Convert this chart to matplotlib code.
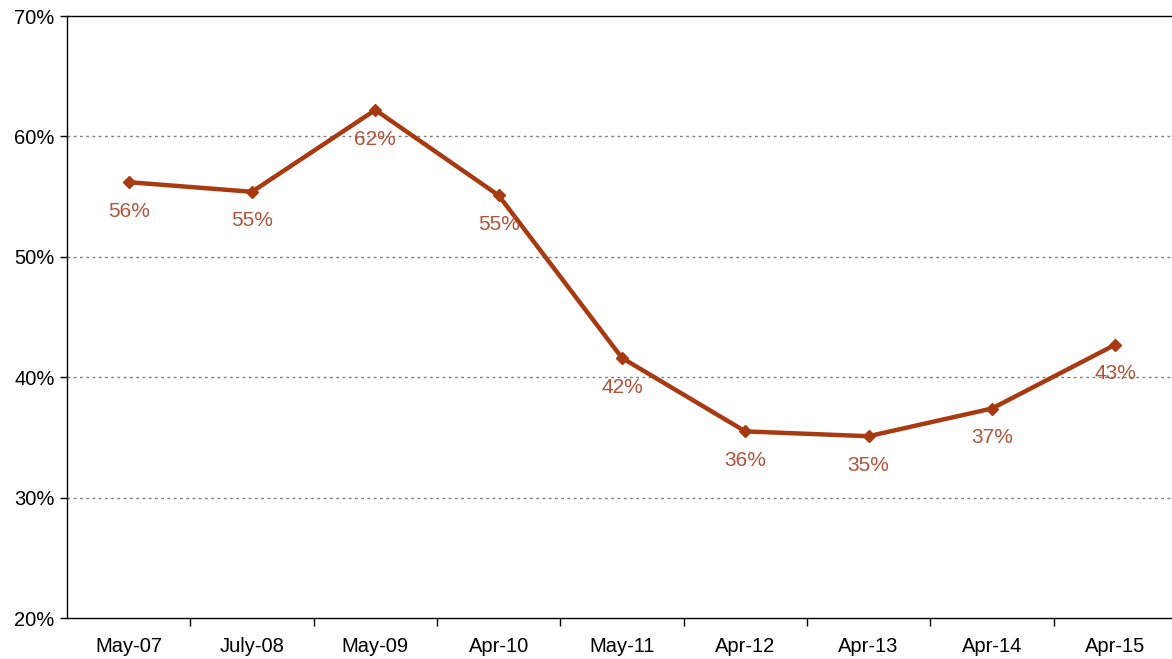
import numpy as np
import matplotlib.pyplot as plt
from matplotlib.ticker import FuncFormatter, FixedLocator

plt.rcParams['font.family'] = ['Liberation Sans', 'DejaVu Sans']

# Survey waves and share of respondents (%)
periods = ['May-07', 'July-08', 'May-09', 'Apr-10', 'May-11',
           'Apr-12', 'Apr-13', 'Apr-14', 'Apr-15']
share = [56.2, 55.4, 62.2, 55.1, 41.6, 35.5, 35.1, 37.4, 42.7]

line_color = '#A83A12'
label_color = '#B0533A'

fig = plt.figure(figsize=(11.72, 6.59), dpi=100)
ax = fig.add_axes([0.0572, 0.0622, 0.947, 0.9135])

x = np.arange(len(periods))
ax.plot(x, share, color=line_color, lw=3.2, marker='D', ms=6.5,
        mfc=line_color, mec=line_color, zorder=3)

for xi, v in zip(x, share):
    ax.annotate(f'{v:.0f}%', (xi, v), xytext=(0, -21), textcoords='offset points',
                ha='center', va='center', fontsize=15, color=label_color, zorder=4)

ax.set_xlim(-0.5, len(periods) - 0.5)
ax.set_ylim(20, 70)
ax.set_yticks(np.arange(20, 71, 10))
ax.yaxis.set_major_formatter(FuncFormatter(lambda v, p: f'{v:.0f}%'))

# category labels centred, tick marks on the boundaries
ax.set_xticks(x)
ax.set_xticklabels(periods)
ax.xaxis.set_minor_locator(FixedLocator(np.arange(0.5, len(periods) - 0.5, 1)))
ax.tick_params(axis='x', which='major', length=0, labelsize=14.5, pad=14)
ax.tick_params(axis='x', which='minor', length=6, width=1, direction='out')
ax.tick_params(axis='y', length=5, width=1, labelsize=14.5, pad=4)

for yv in [30, 40, 50, 60]:
    ax.axhline(yv, color='#808080', lw=1, ls=(0, (2, 2.5)), zorder=1)

for side in ['left', 'bottom', 'top']:
    ax.spines[side].set_color('black')
    ax.spines[side].set_linewidth(1)
ax.spines['right'].set_visible(False)

fig.savefig('out.png', dpi=100, facecolor='w')
